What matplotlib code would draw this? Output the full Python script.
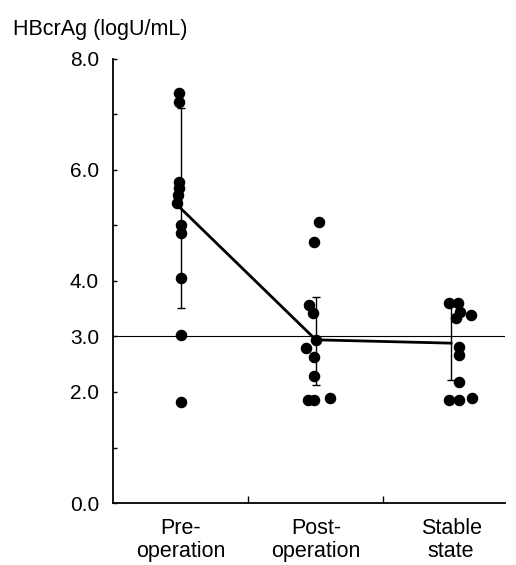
import numpy as np
import matplotlib.pyplot as plt

plt.rcParams['font.family'] = ['Liberation Sans', 'DejaVu Sans']

groups = ['Pre-\noperation', 'Post-\noperation', 'Stable\nstate']

# individual patients (logU/mL) and small horizontal jitter as drawn
pre_vals = [7.39, 7.23, 5.78, 5.68, 5.55, 5.41, 5.01, 4.86, 4.05, 3.03, 1.82]
pre_dx = [-0.01, -0.01, -0.015, -0.015, -0.02, -0.03, 0, 0, 0, 0, 0]
post_vals = [5.06, 4.70, 3.57, 3.42, 2.94, 2.79, 2.63, 2.29, 1.86, 1.86, 1.89]
post_dx = [0.02, -0.015, -0.05, -0.02, 0, -0.075, -0.01, -0.01, -0.06, -0.015, 0.105]
stable_vals = [3.60, 3.60, 3.44, 3.39, 3.33, 2.81, 2.67, 2.18, 1.86, 1.86, 1.89]
stable_dx = [-0.015, 0.05, 0.065, 0.15, 0.035, 0.06, 0.06, 0.06, -0.015, 0.06, 0.155]

# mean and +/- SD
means = [5.31, 2.94, 2.88]
sd_low = [3.51, 2.13, 2.21]
sd_high = [7.12, 3.71, 3.55]

cutoff = 3.0

fig = plt.figure(figsize=(5.16, 5.65), dpi=100)
ax = fig.add_axes([0.219, 0.1097, 0.76, 0.786])

xc = np.array([0.5, 1.5, 2.5])

ax.axhline(cutoff, color='black', lw=0.8, zorder=1)

m = np.array(means)
err = [m - np.array(sd_low), np.array(sd_high) - m]
ax.errorbar(xc, m, yerr=err, fmt='none', ecolor='black', elinewidth=1.0,
            capsize=3, capthick=1.0, zorder=2)
ax.plot(xc, m, color='black', lw=2.0, zorder=3)

for i, (vals, dx) in enumerate([(pre_vals, pre_dx), (post_vals, post_dx),
                                (stable_vals, stable_dx)]):
    ax.plot(xc[i] + np.array(dx), vals, 'o', color='black', ms=7.3, zorder=4)

ax.set_xlim(0, 2.9)
ax.set_ylim(0, 8)

ax.set_yticks([0, 2, 3, 4, 6, 8])
ax.set_yticklabels(['0.0', '2.0', '3.0', '4.0', '6.0', '8.0'])
ax.set_yticks([1, 5, 7], minor=True)
ax.set_xticks(xc)
ax.set_xticklabels(groups)
ax.set_xticks([1, 2], minor=True)

ax.tick_params(axis='y', which='both', direction='in', length=3, width=1,
               labelsize=15, pad=10)
ax.tick_params(axis='x', which='major', length=0, labelsize=15.5, pad=11)
ax.tick_params(axis='x', which='minor', direction='in', length=5, width=1)
for lab in ax.get_xticklabels():
    lab.set_linespacing(1.1)

for s in ['top', 'right']:
    ax.spines[s].set_visible(False)
for s in ['left', 'bottom']:
    ax.spines[s].set_linewidth(1.3)

fig.text(13 / 516, 1 - 35 / 565, 'HBcrAg (logU/mL)', fontsize=15.5,
         va='baseline', ha='left')

fig.savefig('out.png', dpi=100)
